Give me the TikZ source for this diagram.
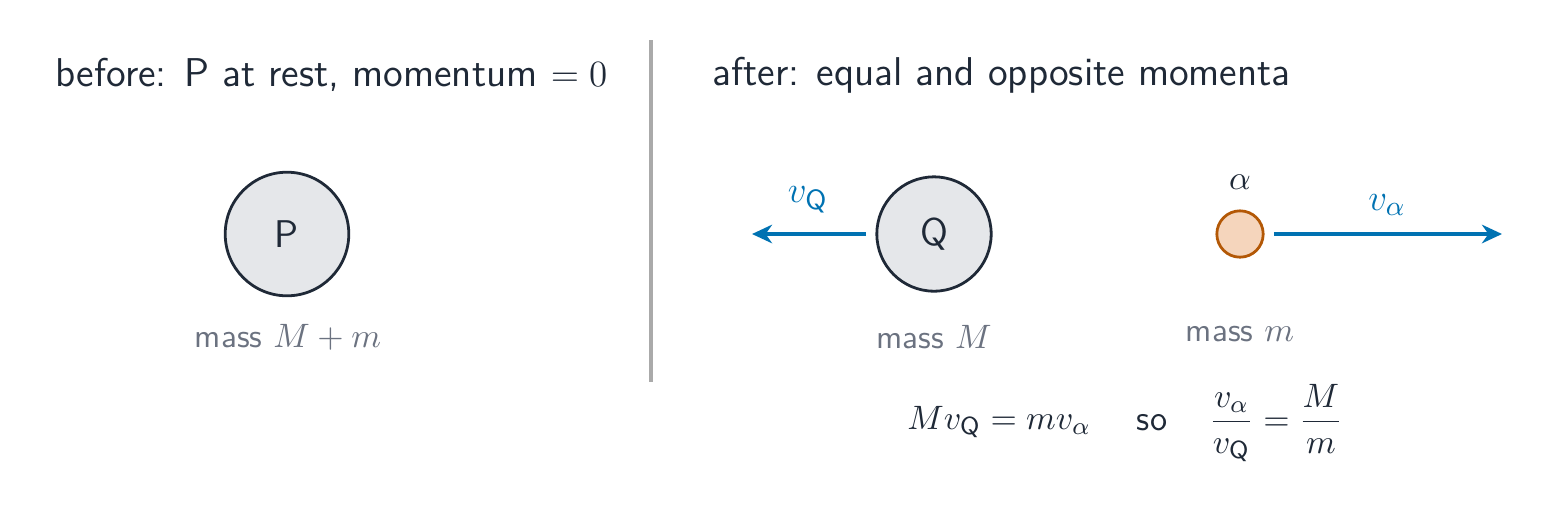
\documentclass[tikz,border=0pt]{standalone}
\usepackage{amsmath}
\usetikzlibrary{arrows.meta}
\definecolor{ink}{HTML}{1F2937}
\definecolor{muted}{HTML}{6B7280}
\definecolor{flow}{HTML}{0072B2}
\definecolor{bodyfill}{HTML}{E5E7EA}
\definecolor{afill}{HTML}{F5D5BC}
\definecolor{aline}{HTML}{B35806}
\definecolor{divider}{HTML}{AAAAAA}
\begin{document}
\begin{tikzpicture}[x=0.3236pt,y=-0.3236pt,
  title/.style={font=\sffamily\fontsize{13}{15}\selectfont,text=ink,anchor=west,inner sep=0pt},
  nucleus/.style={circle,draw=ink,line width=0.9pt,fill=bodyfill,minimum size=#1,inner sep=0pt,text=ink,font=\sffamily\fontsize{12.5}{14}\selectfont},
  alphabody/.style={circle,draw=aline,line width=0.9pt,fill=afill,minimum size=#1,inner sep=0pt},
  masslabel/.style={font=\sffamily\fontsize{10.7}{12}\selectfont,text=muted,inner sep=0pt},
  velocity/.style={flow,line width=1.25pt,-{Stealth[length=6.5pt,width=6pt]}},
  vlabel/.style={text=flow,font=\fontsize{13}{15}\selectfont,inner sep=0pt},
  eqn/.style={text=ink,font=\fontsize{11.3}{13}\selectfont,inner sep=0pt}]
\useasboundingbox (0,0) rectangle (1545,519);
\node[title] (t1) at (55,75) {before: P at rest, momentum $=0$};
\node[title] (t2) at (712,75) {after: equal and opposite momenta};
\coordinate (d1) at (651,40);
\coordinate (d2) at (651,382);
\draw[divider,line width=1pt] (d1) -- (d2);
\node[nucleus=40pt] (P) at (287,234) {P};
\node[masslabel] (mP) at (288,337) {mass $M+m$};
\node[nucleus=37pt] (Q) at (934,234) {Q};
\node[masslabel] (mQ) at (934,337) {mass $M$};
\node[alphabody=15pt] (A) at (1240,234) {};
\node[eqn] (al) at (1240,182) {$\alpha$};
\node[masslabel] (mA) at (1240,334) {mass $m$};
\coordinate (qend) at (752,234);
\coordinate (aend) at (1502,234);
\draw[velocity] ([xshift=-3pt]Q.west) -- (qend);
\draw[velocity] ([xshift=3pt]A.east) -- (aend);
\node[vlabel] (vq) at (808,200) {$v_{\mathsf{Q}}$};
\node[vlabel] (va) at (1387,205) {$v_\alpha$};
\node[eqn] (e1) at (999,422) {$Mv_{\mathsf{Q}}=mv_\alpha$};
\node[eqn,font=\sffamily\fontsize{11.3}{13}\selectfont] (so) at (1152,423) {so};
\node[eqn] (e2) at (1276,423) {$\dfrac{v_\alpha}{v_{\mathsf{Q}}}=\dfrac{M}{m}$};
\end{tikzpicture}
\end{document}
